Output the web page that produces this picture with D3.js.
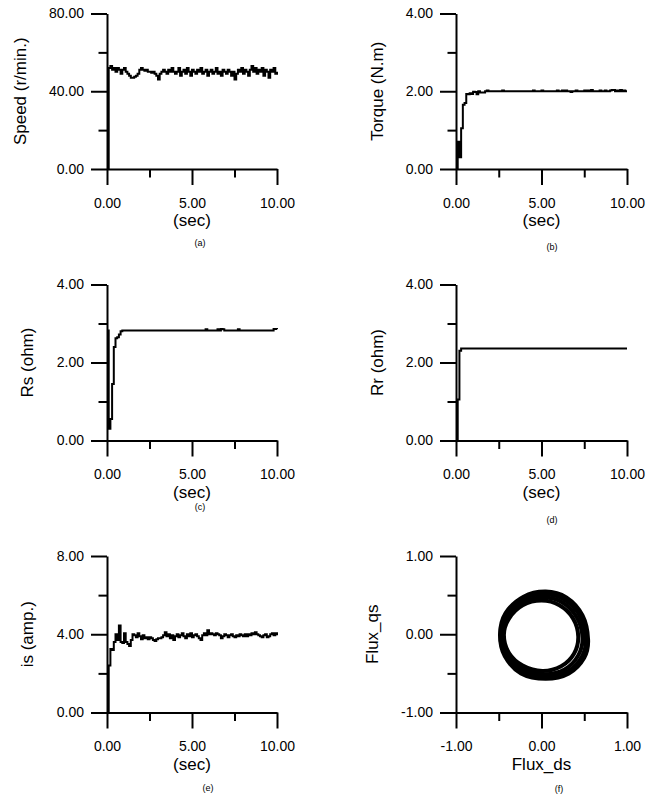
<!DOCTYPE html>
<html>
<head>
<meta charset="utf-8">
<script src="https://cdn.jsdelivr.net/npm/d3@7"></script>
<style>
  body { margin: 0; background: #fff; }
  svg { display: block; font-family: "Liberation Sans", Arial, sans-serif; }
  .axis path, .axis line { stroke: #000; stroke-width: 2; }
  .axis text { font-size: 14px; fill: #000; font-family: "Liberation Sans", Arial, sans-serif; }
  .title { font-size: 17px; fill: #000; }
  .caption { font-size: 9px; fill: #000; }
  .trace { fill: none; stroke: #000; stroke-width: 2; }
  .loop { fill: none; stroke: #000; stroke-width: 4; }
</style>
</head>
<body>
<svg id="chart" width="646" height="800"></svg>
<script>
// samples are 0.1 s apart, from 0 to 10 s
const sampleStep = 0.1;

const speed = [
  0, 52, 53, 51, 52, 50, 52, 51, 49, 51,
  52, 50, 49, 48, 47, 47, 47.5, 48, 49, 51,
  52, 51, 50.5, 51, 50, 50, 49.5, 50, 49, 48,
  46, 49, 50, 51, 50, 49, 51, 50, 52, 50,
  49, 50, 52, 48, 50, 51, 49, 52, 50, 48,
  51, 50, 49, 51, 50, 52, 49, 50, 51, 48,
  50, 51, 49, 50, 52, 49, 50, 48, 51, 50,
  49, 51, 50, 48, 50, 46, 49, 51, 50, 52,
  49, 51, 50, 48, 51, 53, 50, 52, 49, 51,
  50, 52, 48, 51, 50, 47, 51, 50, 52, 49,
  50
];

const torque = [
  0, 0.7, 0.3, 1.05, 1.65, 1.7, 1.93, 1.92, 1.95, 1.93,
  1.99, 1.98, 1.92, 2.0, 1.97, 1.97, 1.97, 2.0, 2.02, 2.0,
  2.0, 2.0, 2.0, 2.0, 2.0, 2.0, 2.0, 2.02, 2.0, 2.0,
  2.0, 2.0, 2.0, 2.0, 2.0, 2.0, 2.0, 2.0, 2.0, 2.0,
  2.0, 2.0, 2.0, 2.0, 2.0, 2.02, 2.0, 2.0, 2.0, 2.0,
  2.02, 2.0, 2.0, 2.0, 2.0, 2.0, 2.0, 2.0, 2.0, 2.02,
  2.0, 2.0, 2.02, 2.0, 2.02, 2.0, 2.0, 1.98, 2.0, 2.0,
  2.02, 2.0, 2.0, 2.0, 2.0, 2.02, 2.0, 2.02, 2.0, 2.03,
  2.0, 2.0, 2.0, 2.0, 2.02, 2.0, 2.0, 2.02, 2.0, 2.0,
  2.02, 2.03, 2.03, 2.0, 2.02, 2.0, 2.03, 2.0, 2.02, 2.0,
  2.0
];

const rs = [
  2.82, 0.3, 0.55, 1.45, 2.4, 2.62, 2.65, 2.72, 2.8, 2.82,
  2.82, 2.82, 2.82, 2.82, 2.82, 2.82, 2.82, 2.82, 2.82, 2.82,
  2.82, 2.82, 2.82, 2.82, 2.82, 2.82, 2.82, 2.82, 2.82, 2.82,
  2.82, 2.82, 2.82, 2.82, 2.82, 2.82, 2.82, 2.82, 2.82, 2.82,
  2.82, 2.82, 2.82, 2.82, 2.82, 2.82, 2.82, 2.82, 2.82, 2.82,
  2.82, 2.82, 2.82, 2.82, 2.82, 2.82, 2.82, 2.82, 2.85, 2.82,
  2.82, 2.82, 2.82, 2.82, 2.82, 2.85, 2.82, 2.86, 2.85, 2.82,
  2.82, 2.82, 2.82, 2.82, 2.82, 2.82, 2.82, 2.85, 2.82, 2.82,
  2.82, 2.82, 2.82, 2.82, 2.82, 2.82, 2.82, 2.82, 2.82, 2.82,
  2.82, 2.82, 2.82, 2.82, 2.82, 2.82, 2.82, 2.82, 2.86, 2.86,
  2.85
];

const rr = [
  0, 1.05, 2.3, 2.36, 2.36, 2.36, 2.36, 2.36, 2.36, 2.36,
  2.36, 2.36, 2.36, 2.36, 2.36, 2.36, 2.36, 2.36, 2.36, 2.36,
  2.36, 2.36, 2.36, 2.36, 2.36, 2.36, 2.36, 2.36, 2.36, 2.36,
  2.36, 2.36, 2.36, 2.36, 2.36, 2.36, 2.36, 2.36, 2.36, 2.36,
  2.36, 2.36, 2.36, 2.36, 2.36, 2.36, 2.36, 2.36, 2.36, 2.36,
  2.36, 2.36, 2.36, 2.36, 2.36, 2.36, 2.36, 2.36, 2.36, 2.36,
  2.36, 2.36, 2.36, 2.36, 2.36, 2.36, 2.36, 2.36, 2.36, 2.36,
  2.36, 2.36, 2.36, 2.36, 2.36, 2.36, 2.36, 2.36, 2.36, 2.36,
  2.36, 2.36, 2.36, 2.36, 2.36, 2.36, 2.36, 2.36, 2.36, 2.36,
  2.36, 2.36, 2.36, 2.36, 2.36, 2.36, 2.36, 2.36, 2.36, 2.36,
  2.36
];

const current = [
  0, 2.4, 3.25, 3.2, 3.6, 4.0, 3.7, 4.45, 3.6, 3.55,
  4.05, 3.6, 3.5, 3.4, 3.7, 4.0, 3.95, 3.85, 4.05, 3.9,
  3.75, 3.95, 3.8, 3.85, 3.75, 3.85, 3.8, 3.7, 3.65, 3.75,
  3.8, 3.8, 3.85, 3.95, 4.1, 3.9, 4.0, 3.8, 3.95, 3.7,
  3.9, 4.0, 3.85, 3.95, 4.05, 3.9, 3.8, 4.0, 3.9, 4.05,
  3.85, 3.95, 4.0, 3.9, 3.8, 3.7, 3.95, 4.05, 3.95, 4.2,
  4.0, 4.05, 4.0, 3.95, 4.05, 4.0, 3.95, 3.8, 3.9, 4.0,
  3.95, 3.85, 3.95, 4.0, 3.9, 3.85, 3.95, 3.9, 4.0, 3.95,
  3.9, 4.0, 3.9, 4.0, 3.95, 4.05, 4.0, 4.1, 4.0, 3.95,
  3.9, 3.85, 3.95, 4.0, 3.85, 3.9, 4.0, 4.05, 3.95, 4.05,
  3.95
];

// flux trajectory, a few laps as [flux_ds, flux_qs]
const fluxLoops = [
  [[0.43, -0.03], [0.37, 0.20], [0.21, 0.37], [0.0, 0.43], [-0.22, 0.37], [-0.38, 0.20],
   [-0.44, -0.01], [-0.38, -0.24], [-0.22, -0.40], [0.01, -0.47], [0.23, -0.41], [0.38, -0.25]],
  [[0.48, -0.04], [0.41, 0.22], [0.24, 0.41], [0.02, 0.47], [-0.21, 0.41], [-0.39, 0.23],
   [-0.46, 0.0], [-0.40, -0.25], [-0.22, -0.44], [0.03, -0.51], [0.27, -0.45], [0.43, -0.27]],
  [[0.52, -0.06], [0.45, 0.23], [0.27, 0.44], [0.04, 0.51], [-0.21, 0.45], [-0.41, 0.25],
   [-0.48, 0.0], [-0.42, -0.27], [-0.23, -0.48], [0.04, -0.55], [0.30, -0.48], [0.47, -0.29]],
  [[0.545, -0.07], [0.48, 0.24], [0.29, 0.47], [0.05, 0.545], [-0.21, 0.48], [-0.42, 0.27],
   [-0.485, 0.0], [-0.43, -0.28], [-0.24, -0.50], [0.05, -0.57], [0.32, -0.50], [0.50, -0.30]]
];

const timeTicks = [0, 5, 10], timeMinor = [2.5, 7.5];
const fluxTicks = [-1, 0, 1], fluxMinor = [-0.5, 0.5];

const svg = d3.select('#chart');
const fmt = d => d.toFixed(2);

const panels = [
  { id: 'a', values: speed, yTicks: [0, 40, 80], yMinor: [20, 60], yLabel: 'Speed (r/min.)',
    left: 107, right: 277, top: 13.5, bottom: 169, titleDx: -87, cap: [200, 246] },
  { id: 'b', values: torque, yTicks: [0, 2, 4], yMinor: [1, 3], yLabel: 'Torque (N.m)',
    left: 456, right: 627, top: 13.5, bottom: 169, titleDx: -79, cap: [552, 250] },
  { id: 'c', values: rs, yTicks: [0, 2, 4], yMinor: [1, 3], yLabel: 'Rs (ohm)',
    left: 107, right: 277, top: 284.5, bottom: 440.5, titleDx: -80, cap: [200, 510] },
  { id: 'd', values: rr, yTicks: [0, 2, 4], yMinor: [1, 3], yLabel: 'Rr (ohm)',
    left: 456, right: 627, top: 284.5, bottom: 440.5, titleDx: -79, cap: [552, 523] },
  { id: 'e', values: current, yTicks: [0, 4, 8], yMinor: [2, 6], yLabel: 'is (amp.)',
    left: 107, right: 277, top: 556, bottom: 712.5, titleDx: -80, cap: [208, 791] },
  { id: 'f', loops: fluxLoops, yTicks: fluxTicks, yMinor: fluxMinor, yLabel: 'Flux_qs', xLabel: 'Flux_ds',
    left: 456, right: 627, top: 556, bottom: 712.5, titleDx: -84, cap: [559, 792] }
];

panels.forEach(p => {
  const isFlux = !!p.loops;
  const xTicks = isFlux ? fluxTicks : timeTicks;
  const xMinor = isFlux ? fluxMinor : timeMinor;

  const x = d3.scaleLinear()
    .domain(d3.extent(xTicks))
    .range([p.left, p.right]);
  const y = d3.scaleLinear()
    .domain(d3.extent(p.yTicks))
    .range([p.bottom, p.top]);

  const g = svg.append('g').attr('class', 'panel panel-' + p.id);

  // minor ticks first, no labels
  g.append('g')
    .attr('class', 'axis')
    .attr('transform', `translate(0,${p.bottom})`)
    .call(d3.axisBottom(x).tickValues(xMinor).tickSize(8.5).tickFormat(''))
    .call(a => a.select('.domain').remove());
  g.append('g')
    .attr('class', 'axis')
    .attr('transform', `translate(${p.left},0)`)
    .call(d3.axisLeft(y).tickValues(p.yMinor).tickSize(8.5).tickFormat(''))
    .call(a => a.select('.domain').remove());

  g.append('g')
    .attr('class', 'axis axis--x')
    .attr('transform', `translate(0,${p.bottom})`)
    .call(d3.axisBottom(x).tickValues(xTicks).tickSize(16).tickSizeOuter(0)
      .tickPadding(13).tickFormat(fmt));
  g.append('g')
    .attr('class', 'axis axis--y')
    .attr('transform', `translate(${p.left},0)`)
    .call(d3.axisLeft(y).tickValues(p.yTicks).tickSize(16).tickSizeOuter(0)
      .tickPadding(7).tickFormat(fmt));

  g.selectAll('.axis text').attr('font-size', 14);

  g.append('text')
    .attr('class', 'title')
    .attr('text-anchor', 'middle')
    .attr('x', (p.left + p.right) / 2)
    .attr('y', p.bottom + 57)
    .text(p.xLabel || '(sec)');

  g.append('text')
    .attr('class', 'title')
    .attr('text-anchor', 'middle')
    .attr('transform', `translate(${p.left + p.titleDx},${(p.top + p.bottom) / 2}) rotate(-90)`)
    .attr('dy', '0.35em')
    .text(p.yLabel);

  g.append('text')
    .attr('class', 'caption')
    .attr('text-anchor', 'middle')
    .attr('x', p.cap[0])
    .attr('y', p.cap[1])
    .text('(' + p.id + ')');

  if (isFlux) {
    const loop = d3.line()
      .curve(d3.curveCardinalClosed)
      .x(d => x(d[0]))
      .y(d => y(d[1]));
    g.selectAll('.loop')
      .data(p.loops)
      .enter().append('path')
      .attr('class', 'loop')
      .attr('d', loop);
  } else {
    const line = d3.line()
      .curve(d3.curveStepAfter)
      .x((d, i) => x(i * sampleStep))
      .y(d => y(d));
    g.append('path')
      .attr('class', 'trace')
      .attr('d', line(p.values));
  }
});
</script>
</body>
</html>
